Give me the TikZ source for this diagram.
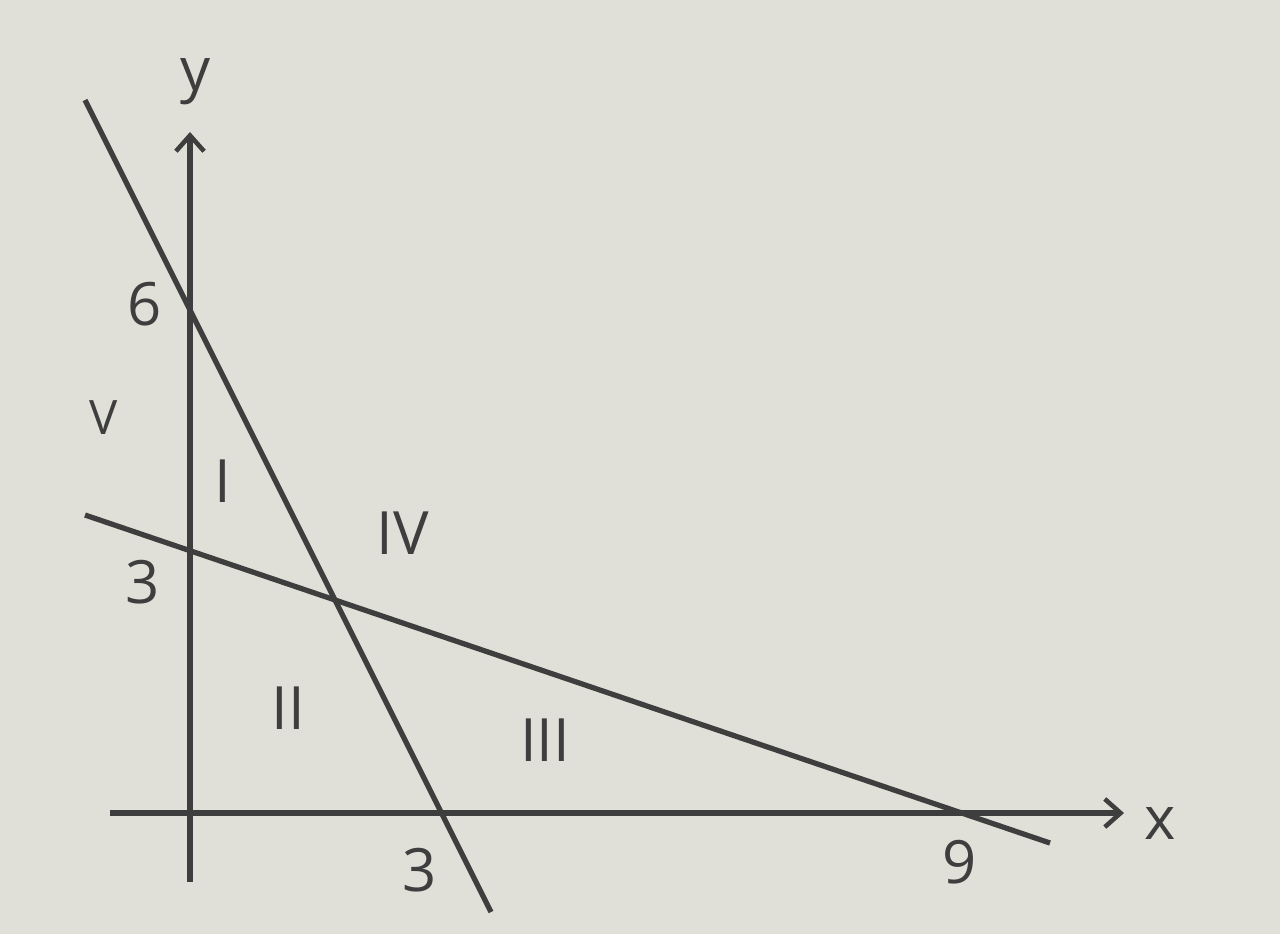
\documentclass[tikz,border=0pt]{standalone}
\usepackage{fontspec}
\setmainfont{Open Sans}
\usetikzlibrary{arrows.meta}
\definecolor{bg}{RGB}{224,224,216}
\definecolor{ink}{RGB}{62,62,62}
\begin{document}
\begin{tikzpicture}[x=0.02cm,y=-0.02cm,
  axis/.style={ink,line width=3pt,-{Straight Barb[length=9pt,width=16pt,line width=2.6pt]}},
  ln/.style={ink,line width=3pt},
  lbl/.style={ink,inner sep=0pt,font=\fontsize{34}{40}\selectfont},
  small/.style={ink,inner sep=0pt,font=\fontsize{27}{32}\selectfont}]
\fill[bg] (0,0) rectangle (1280,934);
\useasboundingbox (0,0) rectangle (1280,934);
% axis endpoints
\coordinate (ys) at (190,882);
\coordinate (ye) at (190,132);
\coordinate (xs) at (110,813);
\coordinate (xe) at (1124,813);
% lines
\coordinate (a1) at (85,100);
\coordinate (a2) at (491,912);
\coordinate (b1) at (85,515);
\coordinate (b2) at (1050,843);
\draw[axis] (ys) -- (ye);
\draw[axis] (xs) -- (xe);
\draw[ln] (a1) -- (a2);
\draw[ln] (b1) -- (b2);
% labels
\node[lbl] (ylab) at (196,82) {y};
\node[lbl] (xlab) at (1160,823) {x};
\node[lbl] (six) at (145,304) {6};
\node[lbl] (threey) at (143,582) {3};
\node[lbl] (threex) at (420,870) {3};
\node[lbl] (nine) at (960,862) {9};
\node[small] (rV) at (104,418) {V};
\node[lbl] (rI) at (223,481) {I};
\node[lbl] (rIV) at (403,533) {IV};
\node[lbl] (rII) at (288,708) {II};
\node[lbl] (rIII) at (545,740) {III};
\end{tikzpicture}
\end{document}
